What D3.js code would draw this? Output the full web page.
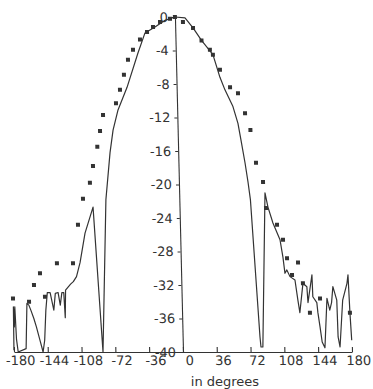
<!DOCTYPE html>
<html>
<head>
<meta charset="utf-8">
<script src="https://cdn.jsdelivr.net/npm/d3@7"></script>
<style>
  html, body { margin: 0; padding: 0; background: #fff; }
  svg { display: block; font-family: "DejaVu Sans", sans-serif; }
</style>
</head>
<body>
<div id="chart"></div>
<script>
// tick values
const xTicks = [-180, -144, -108, -72, -36, 0, 36, 72, 108, 144, 180];
const yTicks = [0, -4, -8, -12, -16, -20, -24, -28, -32, -36, -40];

// solid trace (angle in degrees, level in dB)
const lineAngles = [-180, -179.5, -179, -178, -177, -175.5, -167, -165, -163, -161, -158, -155.5, -152, -149, -147, -145, -143, -140, -136.5, -134.5, -131.5, -129.5, -127.5, -125.5, -124.5, -123.5, -118, -115, -111.5, -107.3, -101.3, -92.1, -85.2, -78.2, -72.6, -68.8, -63, -52.8, -40.3, -32.3, -21.5, -10.6, 0, 10.7, 19, 27.7, 39.5, 46.4, 51.4, 59.5, 64.4, 67.2, 70.9, 73.6, 75.7, 82.4, 83.2, 85.2, 91.4, 94.2, 99.1, 106.2, 108.9, 110.6, 112.7, 115.9, 121.1, 123.7, 125.5, 129.5, 133.6, 134.4, 139.3, 139.7, 143.8, 144.7, 146.6, 148.5, 151.3, 154.7, 157.4, 159.5, 161.3, 165.1, 165.6, 167.4, 171.4, 176.4, 177.7, 178.8, 180];
const lineLevels = [-39.8, -34.6, -37.0, -34.6, -38.5, -40, -39.6, -34.2, -34.4, -35, -36, -37, -38.6, -40, -38.6, -35, -32.9, -32.9, -35, -33, -32.9, -34.4, -32.9, -32.9, -35.9, -32.6, -31.9, -31.6, -31, -29.3, -25.8, -22.7, -40, -21.8, -16.2, -13.5, -11.1, -8.4, -4.3, -1.9, -1.2, -0.4, 0, -0.1, -1.3, -2.8, -4.5, -7.2, -8.7, -10.7, -12.7, -14.7, -17.4, -19.7, -21.8, -38.2, -39.4, -39.4, -21, -22.7, -24.6, -26.6, -28.7, -30.6, -30.2, -31, -31.4, -33.8, -35.3, -31.8, -32.2, -34.1, -30.8, -33.4, -34.1, -35.3, -37, -38.8, -39.5, -33.6, -35, -34.1, -32.2, -33.8, -38.2, -39.4, -33.8, -31.8, -30.8, -35.3, -38.6];

// marker series
const markAngles = [-179.7, -162.7, -157, -150.3, -145.6, -132, -114.9, -108.6, -102.6, -94.8, -91.1, -86, -82.7, -79.1, -65, -60.4, -55.8, -51.1, -45.5, -37.8, -30.1, -23.6, -16, -5.3, 0, 8.4, 19, 27.7, 36.4, 39.5, 46.6, 56.9, 65.2, 72.2, 77.5, 82.6, 89.6, 92.1, 103.4, 109.4, 113.2, 118.1, 124.8, 129.5, 136.2, 147.3, 178.8];
const markLevels = [-33.6, -34, -32, -30.6, -33.4, -29.4, -29.4, -24.8, -21.7, -19.8, -17.8, -15.5, -13.6, -11.7, -10.3, -8.7, -6.9, -5.1, -3.9, -2.7, -1.8, -1.2, -0.6, -0.2, 0, -0.6, -1.3, -2.8, -3.9, -4.5, -6.3, -8.4, -9.1, -11.5, -13.5, -17.4, -19.7, -22.8, -24.8, -26.6, -28.8, -30.8, -29.3, -31.8, -35.3, -33.6, -35.3];

const width = 373, height = 389;
const ink = '#333';

const svg = d3.select('#chart').append('svg')
  .attr('width', width)
  .attr('height', height);

const x = d3.scaleLinear().domain([-180, 180]).range([14, 352]);
const y = d3.scaleLinear().domain([0, -40]).range([17, 352]);

// the scanned original leans a little, so the plot is skewed about its base
const g = svg.append('g')
  .attr('transform', `translate(0,${y(-40)}) skewX(1.38) translate(0,${-y(-40)})`);

const xAxis = g.append('g')
  .attr('transform', `translate(0,${y(-40)})`)
  .call(d3.axisBottom(x).tickValues(xTicks).tickSize(-5).tickSizeOuter(0)
    .tickPadding(4).tickFormat(d => String(d)));

xAxis.selectAll('text').attr('dx', 6);

const yAxis = g.append('g')
  .attr('transform', `translate(${x(0)},0)`)
  .call(d3.axisLeft(y).tickValues(yTicks).tickSize(3).tickSizeOuter(0)
    .tickPadding(4).tickFormat(d => String(d)));

g.selectAll('.domain, .tick line').attr('stroke', ink).attr('stroke-width', 1.1);
g.selectAll('.tick text').attr('fill', ink).style('font-size', '13px')
  .style('font-family', '"DejaVu Sans", sans-serif');

const lineData = lineAngles.map((a, i) => [a, lineLevels[i]]);
const markData = markAngles.map((a, i) => [a, markLevels[i]]);

const line = d3.line()
  .x(d => x(d[0]))
  .y(d => y(d[1]));

g.append('path')
  .datum(lineData)
  .attr('fill', 'none')
  .attr('stroke', ink)
  .attr('stroke-width', 1.2)
  .attr('stroke-linejoin', 'round')
  .attr('d', line);

g.selectAll('.mark')
  .data(markData)
  .join('rect')
  .attr('class', 'mark')
  .attr('x', d => x(d[0]) - 2)
  .attr('y', d => y(d[1]) - 2)
  .attr('width', 4)
  .attr('height', 4)
  .attr('fill', ink);

svg.append('text')
  .attr('x', 225)
  .attr('y', 386)
  .attr('text-anchor', 'middle')
  .attr('fill', ink)
  .style('font-size', '13px')
  .text('in degrees');
</script>
</body>
</html>
